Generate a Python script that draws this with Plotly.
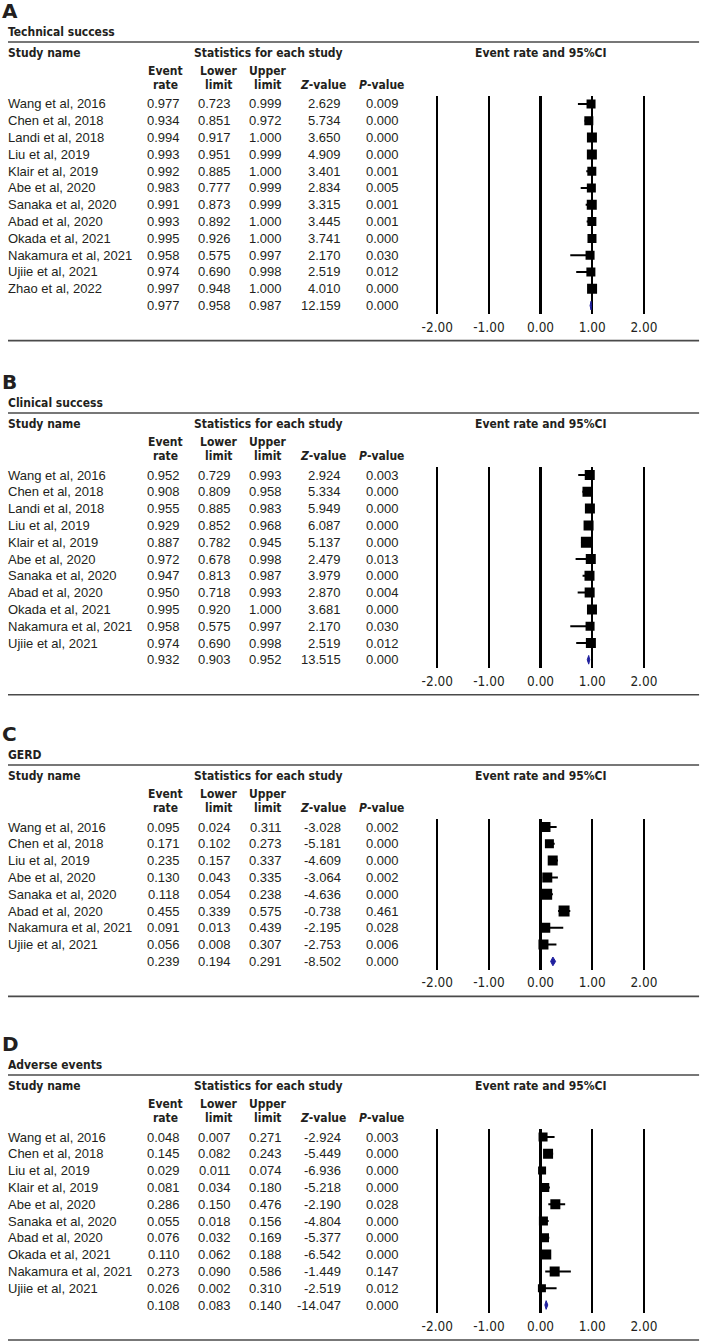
import plotly.graph_objects as go

W, H = 709, 1342

# ---------------- data ----------------
titles = ["Technical success", "Clinical success", "GERD", "Adverse events"]
letters = ["A", "B", "C", "D"]

names_a = ["Wang et al, 2016", "Chen et al, 2018", "Landi et al, 2018", "Liu et al, 2019",
           "Klair et al, 2019", "Abe et al, 2020", "Sanaka et al, 2020", "Abad et al, 2020",
           "Okada et al, 2021", "Nakamura et al, 2021", "Ujiie et al, 2021", "Zhao et al, 2022"]
er_a = [0.977, 0.934, 0.994, 0.993, 0.992, 0.983, 0.991, 0.993, 0.995, 0.958, 0.974, 0.997, 0.977]
lo_a = [0.723, 0.851, 0.917, 0.951, 0.885, 0.777, 0.873, 0.892, 0.926, 0.575, 0.690, 0.948, 0.958]
up_a = [0.999, 0.972, 1.000, 0.999, 1.000, 0.999, 0.999, 1.000, 1.000, 0.997, 0.998, 1.000, 0.987]
z_a = ["2.629", "5.734", "3.650", "4.909", "3.401", "2.834", "3.315", "3.445", "3.741", "2.170", "2.519", "4.010", "12.159"]
p_a = ["0.009", "0.000", "0.000", "0.000", "0.001", "0.005", "0.001", "0.001", "0.000", "0.030", "0.012", "0.000", "0.000"]
sz_a = [9, 9, 10, 10, 9, 9, 10, 9, 9, 9, 9, 10]

names_b = ["Wang et al, 2016", "Chen et al, 2018", "Landi et al, 2018", "Liu et al, 2019",
           "Klair et al, 2019", "Abe et al, 2020", "Sanaka et al, 2020", "Abad et al, 2020",
           "Okada et al, 2021", "Nakamura et al, 2021", "Ujiie et al, 2021"]
er_b = [0.952, 0.908, 0.955, 0.929, 0.887, 0.972, 0.947, 0.950, 0.995, 0.958, 0.974, 0.932]
lo_b = [0.729, 0.809, 0.885, 0.852, 0.782, 0.678, 0.813, 0.718, 0.920, 0.575, 0.690, 0.903]
up_b = [0.993, 0.958, 0.983, 0.968, 0.945, 0.998, 0.987, 0.993, 1.000, 0.997, 0.998, 0.952]
z_b = ["2.924", "5.334", "5.949", "6.087", "5.137", "2.479", "3.979", "2.870", "3.681", "2.170", "2.519", "13.515"]
p_b = ["0.003", "0.000", "0.000", "0.000", "0.000", "0.013", "0.000", "0.004", "0.000", "0.030", "0.012", "0.000"]
sz_b = [10, 10, 10, 10, 11, 10, 10, 10, 10, 9, 10]

names_c = ["Wang et al, 2016", "Chen et al, 2018", "Liu et al, 2019", "Abe et al, 2020",
           "Sanaka et al, 2020", "Abad et al, 2020", "Nakamura et al, 2021", "Ujiie et al, 2021"]
er_c = [0.095, 0.171, 0.235, 0.130, 0.118, 0.455, 0.091, 0.056, 0.239]
lo_c = [0.024, 0.102, 0.157, 0.043, 0.054, 0.339, 0.013, 0.008, 0.194]
up_c = [0.311, 0.273, 0.337, 0.335, 0.238, 0.575, 0.439, 0.307, 0.291]
z_c = ["-3.028", "-5.181", "-4.609", "-3.064", "-4.636", "-0.738", "-2.195", "-2.753", "-8.502"]
p_c = ["0.002", "0.000", "0.000", "0.002", "0.000", "0.461", "0.028", "0.006", "0.000"]
sz_c = [10, 9, 10, 10, 11, 11, 10, 10]

names_d = ["Wang et al, 2016", "Chen et al, 2018", "Liu et al, 2019", "Klair et al, 2019",
           "Abe et al, 2020", "Sanaka et al, 2020", "Abad et al, 2020", "Okada et al, 2021",
           "Nakamura et al, 2021", "Ujiie et al, 2021"]
er_d = [0.048, 0.145, 0.029, 0.081, 0.286, 0.055, 0.076, 0.110, 0.273, 0.026, 0.108]
lo_d = [0.007, 0.082, 0.011, 0.034, 0.150, 0.018, 0.032, 0.062, 0.090, 0.002, 0.083]
up_d = [0.271, 0.243, 0.074, 0.180, 0.476, 0.156, 0.169, 0.188, 0.586, 0.310, 0.140]
z_d = ["-2.924", "-5.449", "-6.936", "-5.218", "-2.190", "-4.804", "-5.377", "-6.542", "-1.449", "-2.519", "-14.047"]
p_d = ["0.003", "0.000", "0.000", "0.000", "0.028", "0.000", "0.000", "0.000", "0.147", "0.012", "0.000"]
sz_d = [9, 10, 8, 9, 10, 9, 9, 10, 10, 8]

tick_vals = [-2, -1, 0, 1, 2]
tick_text = ["-2.00", "-1.00", "0.00", "1.00", "2.00"]

panels = [
    (names_a, er_a, lo_a, up_a, z_a, p_a, sz_a),
    (names_b, er_b, lo_b, up_b, z_b, p_b, sz_b),
    (names_c, er_c, lo_c, up_c, z_c, p_c, sz_c),
    (names_d, er_d, lo_d, up_d, z_d, p_d, sz_d),
]

# ---------------- layout geometry (pixels) ----------------
top_lines = [42, 413, 765, 1075]   # header rule of each panel
ROW = 16.8
X0_PX, UNIT_PX = 543.3, 52.7       # position of 0 and pixels per unit on forest axis
XR = 2.15

def px(x):
    return x / W

def py(y):
    return 1 - y / H

HDR_FONT = "DejaVu Sans Condensed, DejaVu Sans, Verdana, sans-serif"
TXT_FONT = "Liberation Sans, Arial, sans-serif"
TICK_FONT = "Liberation Sans Narrow, Arial Narrow, DejaVu Sans Condensed, sans-serif"
INK = "#231f20"

LEFT_TXT = -2                           # left edge for study names / headers
col_right = [177, 230, 282, 342, 401]   # value columns right edges
col_hdr = [161, 215, 265, 321, 381]     # header centers

fig = go.Figure()
annotations = []
shapes = []
layout_axes = {}

for k, (names, er, lo, up, zv, pv, sz) in enumerate(panels):
    idx = k + 1
    xa = "x" if idx == 1 else f"x{idx}"
    ya = "y" if idx == 1 else f"y{idx}"
    L = top_lines[k]
    n = len(er)
    first = L + 62
    summ = first + (n - 1) * ROW
    ytop_px = first - ROW / 2
    ybot_px = summ + ROW / 2

    layout_axes[f"xaxis{'' if idx == 1 else idx}"] = dict(
        domain=[px(X0_PX - XR * UNIT_PX), px(X0_PX + XR * UNIT_PX)],
        range=[-XR, XR], anchor=ya,
        tickvals=tick_vals, ticktext=tick_text,
        showgrid=True, gridcolor="#000000", gridwidth=2.2,
        zeroline=False, showline=False, ticks="", ticklabelstandoff=3,
        tickfont=dict(family=TICK_FONT, size=13.5, color=INK),
        fixedrange=True,
    )
    layout_axes[f"yaxis{'' if idx == 1 else idx}"] = dict(
        domain=[py(ybot_px), py(ytop_px)],
        range=[n - 0.5, -0.5], anchor=xa,
        visible=False, showgrid=False, zeroline=False, fixedrange=True,
    )

    rows = list(range(n - 1))
    fig.add_trace(go.Scatter(
        x=er[:-1], y=rows, xaxis=xa, yaxis=ya, mode="markers",
        marker=dict(symbol="square", size=sz, color="#000000", opacity=1, line=dict(width=0)),
        error_x=dict(type="data", symmetric=False,
                     array=[u - e for u, e in zip(up[:-1], er[:-1])],
                     arrayminus=[e - l for e, l in zip(er[:-1], lo[:-1])],
                     color="#000000", thickness=2, width=0),
        showlegend=False, hoverinfo="skip",
    ))
    s = n - 1
    fig.add_trace(go.Scatter(
        x=[lo[-1], er[-1], up[-1], er[-1], lo[-1]],
        y=[s, s - 0.26, s, s + 0.26, s],
        xaxis=xa, yaxis=ya, mode="lines", fill="toself",
        fillcolor="#1f1f9e", line=dict(color="#1f1f9e", width=1),
        showlegend=False, hoverinfo="skip",
    ))

    shapes.append(dict(type="line", xref="paper", yref="paper",
                       x0=0, x1=px(705), y0=py(L), y1=py(L),
                       line=dict(color="#4a4a4a", width=1.6)))
    shapes.append(dict(type="line", xref="paper", yref="paper",
                       x0=0, x1=px(705), y0=py(summ + 35), y1=py(summ + 35),
                       line=dict(color="#4a4a4a", width=1.6)))

    annotations.append(dict(text=f"<b>{letters[k]}</b>", xref="paper", yref="paper",
                            x=px(-8), y=py(L - 31), xanchor="left", yanchor="middle",
                            showarrow=False, font=dict(family="DejaVu Sans, Verdana", size=20, color=INK)))
    annotations.append(dict(text=f"<b>{titles[k]}</b>", xref="paper", yref="paper",
                            x=px(LEFT_TXT), y=py(L - 10), xanchor="left", yanchor="middle",
                            showarrow=False, font=dict(family=HDR_FONT, size=12, color=INK)))
    hdr_y = L + 11
    for txt, xx, anc in [("Study name", LEFT_TXT, "left"),
                         ("Statistics for each study", 266, "center"),
                         ("Event rate and 95%CI", 543, "center")]:
        annotations.append(dict(text=f"<b>{txt}</b>", xref="paper", yref="paper",
                                x=px(xx), y=py(hdr_y), xanchor=anc, yanchor="middle",
                                showarrow=False, font=dict(family=HDR_FONT, size=12, color=INK)))
    for (l1, l2), xx in zip([("Event", "rate"), ("Lower", "limit"), ("Upper", "limit"),
                             (None, "<i>Z</i>-value"), (None, "<i>P</i>-value")], col_hdr):
        if l1:
            annotations.append(dict(text=f"<b>{l1}</b>", xref="paper", yref="paper",
                                    x=px(xx), y=py(L + 29), xanchor="center", yanchor="middle",
                                    showarrow=False, font=dict(family=HDR_FONT, size=12, color=INK)))
        annotations.append(dict(text=f"<b>{l2}</b>", xref="paper", yref="paper",
                                x=px(xx), y=py(L + 43), xanchor="center", yanchor="middle",
                                showarrow=False, font=dict(family=HDR_FONT, size=12, color=INK)))

    tf = dict(family=TXT_FONT, size=13, color=INK)
    for i in range(n):
        if i < n - 1:
            annotations.append(dict(text=names[i], xref="paper", yref=ya, x=px(LEFT_TXT), y=i,
                                    xanchor="left", yanchor="middle", showarrow=False, font=tf))
        vals = [f"{er[i]:.3f}", f"{lo[i]:.3f}", f"{up[i]:.3f}", zv[i], pv[i]]
        for v, xr in zip(vals, col_right):
            annotations.append(dict(text=v, xref="paper", yref=ya, x=px(xr), y=i,
                                    xanchor="right", yanchor="middle", showarrow=False, font=tf))

fig.update_layout(
    width=W, height=H,
    margin=dict(l=0, r=0, t=0, b=0),
    paper_bgcolor="white", plot_bgcolor="white",
    annotations=annotations, shapes=shapes,
    showlegend=False,
    **layout_axes,
)

fig.write_html("out.html",
               config={"displayModeBar": False, "staticPlot": True},
               post_script="document.documentElement.style.margin='0px';"
                           "document.body.style.margin='0px';"
                           "document.body.style.overflow='hidden';")
